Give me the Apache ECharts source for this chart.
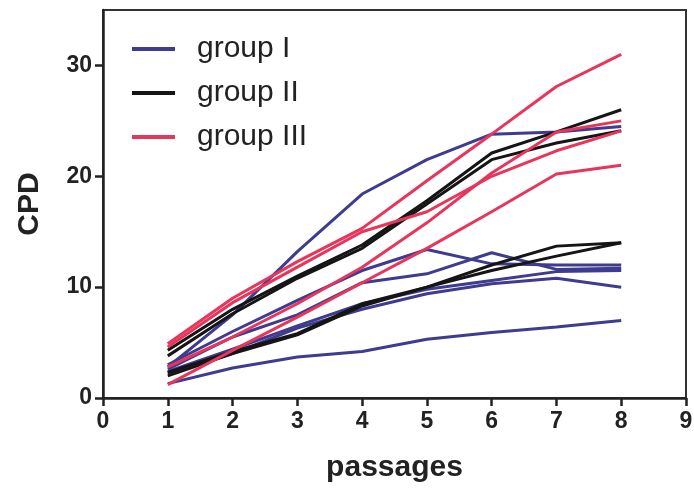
<!DOCTYPE html>
<html>
<head>
<meta charset="utf-8">
<script src="https://cdn.jsdelivr.net/npm/echarts@6/dist/echarts.min.js"></script>
<style>
  html, body { margin: 0; padding: 0; background: #fff; }
  #chart { width: 694px; height: 491px; }
</style>
</head>
<body>
<div id="chart"></div>
<script>
const passages = [1, 2, 3, 4, 5, 6, 7, 8];
const yTicks = [0, 10, 20, 30];

// group I (blue)
const groupI = [
  [2.8, 7.5, 13.2, 18.4, 21.5, 23.8, 24.0, 24.5],
  [3.0, 6.0, 8.8, 11.5, 13.4, 12.1, 12.0, 12.0],
  [2.6, 5.5, 7.5, 10.4, 11.2, 13.1, 11.6, 11.7],
  [2.2, 4.0, 6.3, 8.0, 9.4, 10.3, 10.8, 10.0],
  [2.4, 4.4, 6.5, 8.5, 9.8, 10.6, 11.4, 11.5],
  [1.3, 2.7, 3.7, 4.2, 5.3, 5.9, 6.4, 7.0]
];
// group II (black)
const groupII = [
  [4.3, 8.0, 11.0, 13.8, 17.8, 22.1, 24.0, 26.0],
  [3.8, 7.6, 10.8, 13.5, 17.5, 21.5, 23.0, 24.1],
  [2.3, 4.2, 5.8, 8.5, 10.0, 12.0, 13.7, 14.0],
  [2.0, 4.0, 5.7, 8.3, 10.0, 11.5, 12.8, 14.0]
];
// group III (red)
const groupIII = [
  [4.9, 9.0, 12.3, 15.3, 19.6, 23.8, 28.1, 31.0],
  [2.8, 5.5, 8.5, 11.8, 15.8, 20.3, 24.0, 25.0],
  [4.6, 8.6, 11.8, 15.0, 16.8, 20.0, 22.3, 24.1],
  [1.2, 4.3, 7.3, 10.4, 13.5, 16.8, 20.2, 21.0]
];

const groups = [
  { name: "group I", color: "#3f3b8f", lines: groupI },
  { name: "group II", color: "#151515", lines: groupII },
  { name: "group III", color: "#e8355b", lines: groupIII }
];

const series = [];
groups.forEach((g) => {
  g.lines.forEach((vals) => {
    series.push({
      name: g.name,
      type: "line",
      data: vals.map((v, i) => [passages[i], v]),
      symbol: "none",
      color: g.color,
      lineStyle: { width: 3, color: g.color },
      silent: true
    });
  });
});

const axisFont = {
  fontFamily: "'Liberation Sans', Arial, sans-serif",
  fontWeight: "bold",
  fontSize: 23,
  color: "#222"
};

const chart = echarts.init(document.getElementById("chart"));
chart.setOption({
  animation: false,
  grid: {
    left: 103,
    right: 8,
    top: 10,
    bottom: 93,
    outerBoundsMode: "none",
    show: true,
    borderColor: "#333",
    borderWidth: 2
  },
  legend: {
    data: groups.map((g) => g.name),
    orient: "vertical",
    left: 127,
    top: 29,
    icon: "rect",
    itemWidth: 43,
    itemHeight: 4,
    itemGap: 14,
    textStyle: {
      fontFamily: "'Liberation Sans', Arial, sans-serif",
      fontSize: 30,
      color: "#222",
      padding: [0, 0, 0, 17]
    }
  },
  xAxis: {
    type: "value",
    min: 0,
    max: 9,
    interval: 1,
    name: "passages",
    nameLocation: "middle",
    nameGap: 55,
    nameTextStyle: { ...axisFont, fontSize: 30 },
    axisLine: { lineStyle: { color: "#222", width: 2.5 } },
    axisTick: { length: 8, lineStyle: { color: "#222", width: 2.5 } },
    axisLabel: { ...axisFont, margin: 12 },
    splitLine: { show: false }
  },
  yAxis: {
    type: "value",
    min: 0,
    max: 35,
    interval: 10,
    name: "CPD",
    nameLocation: "middle",
    nameGap: 58,
    nameTextStyle: { ...axisFont, fontSize: 30 },
    axisLine: { show: true, lineStyle: { color: "#222", width: 2.5 } },
    axisTick: { show: true, length: 8, customValues: yTicks, lineStyle: { color: "#222", width: 2.5 } },
    axisLabel: { ...axisFont, margin: 11, customValues: yTicks },
    splitLine: { show: false }
  },
  series: series
});
</script>
</body>
</html>
